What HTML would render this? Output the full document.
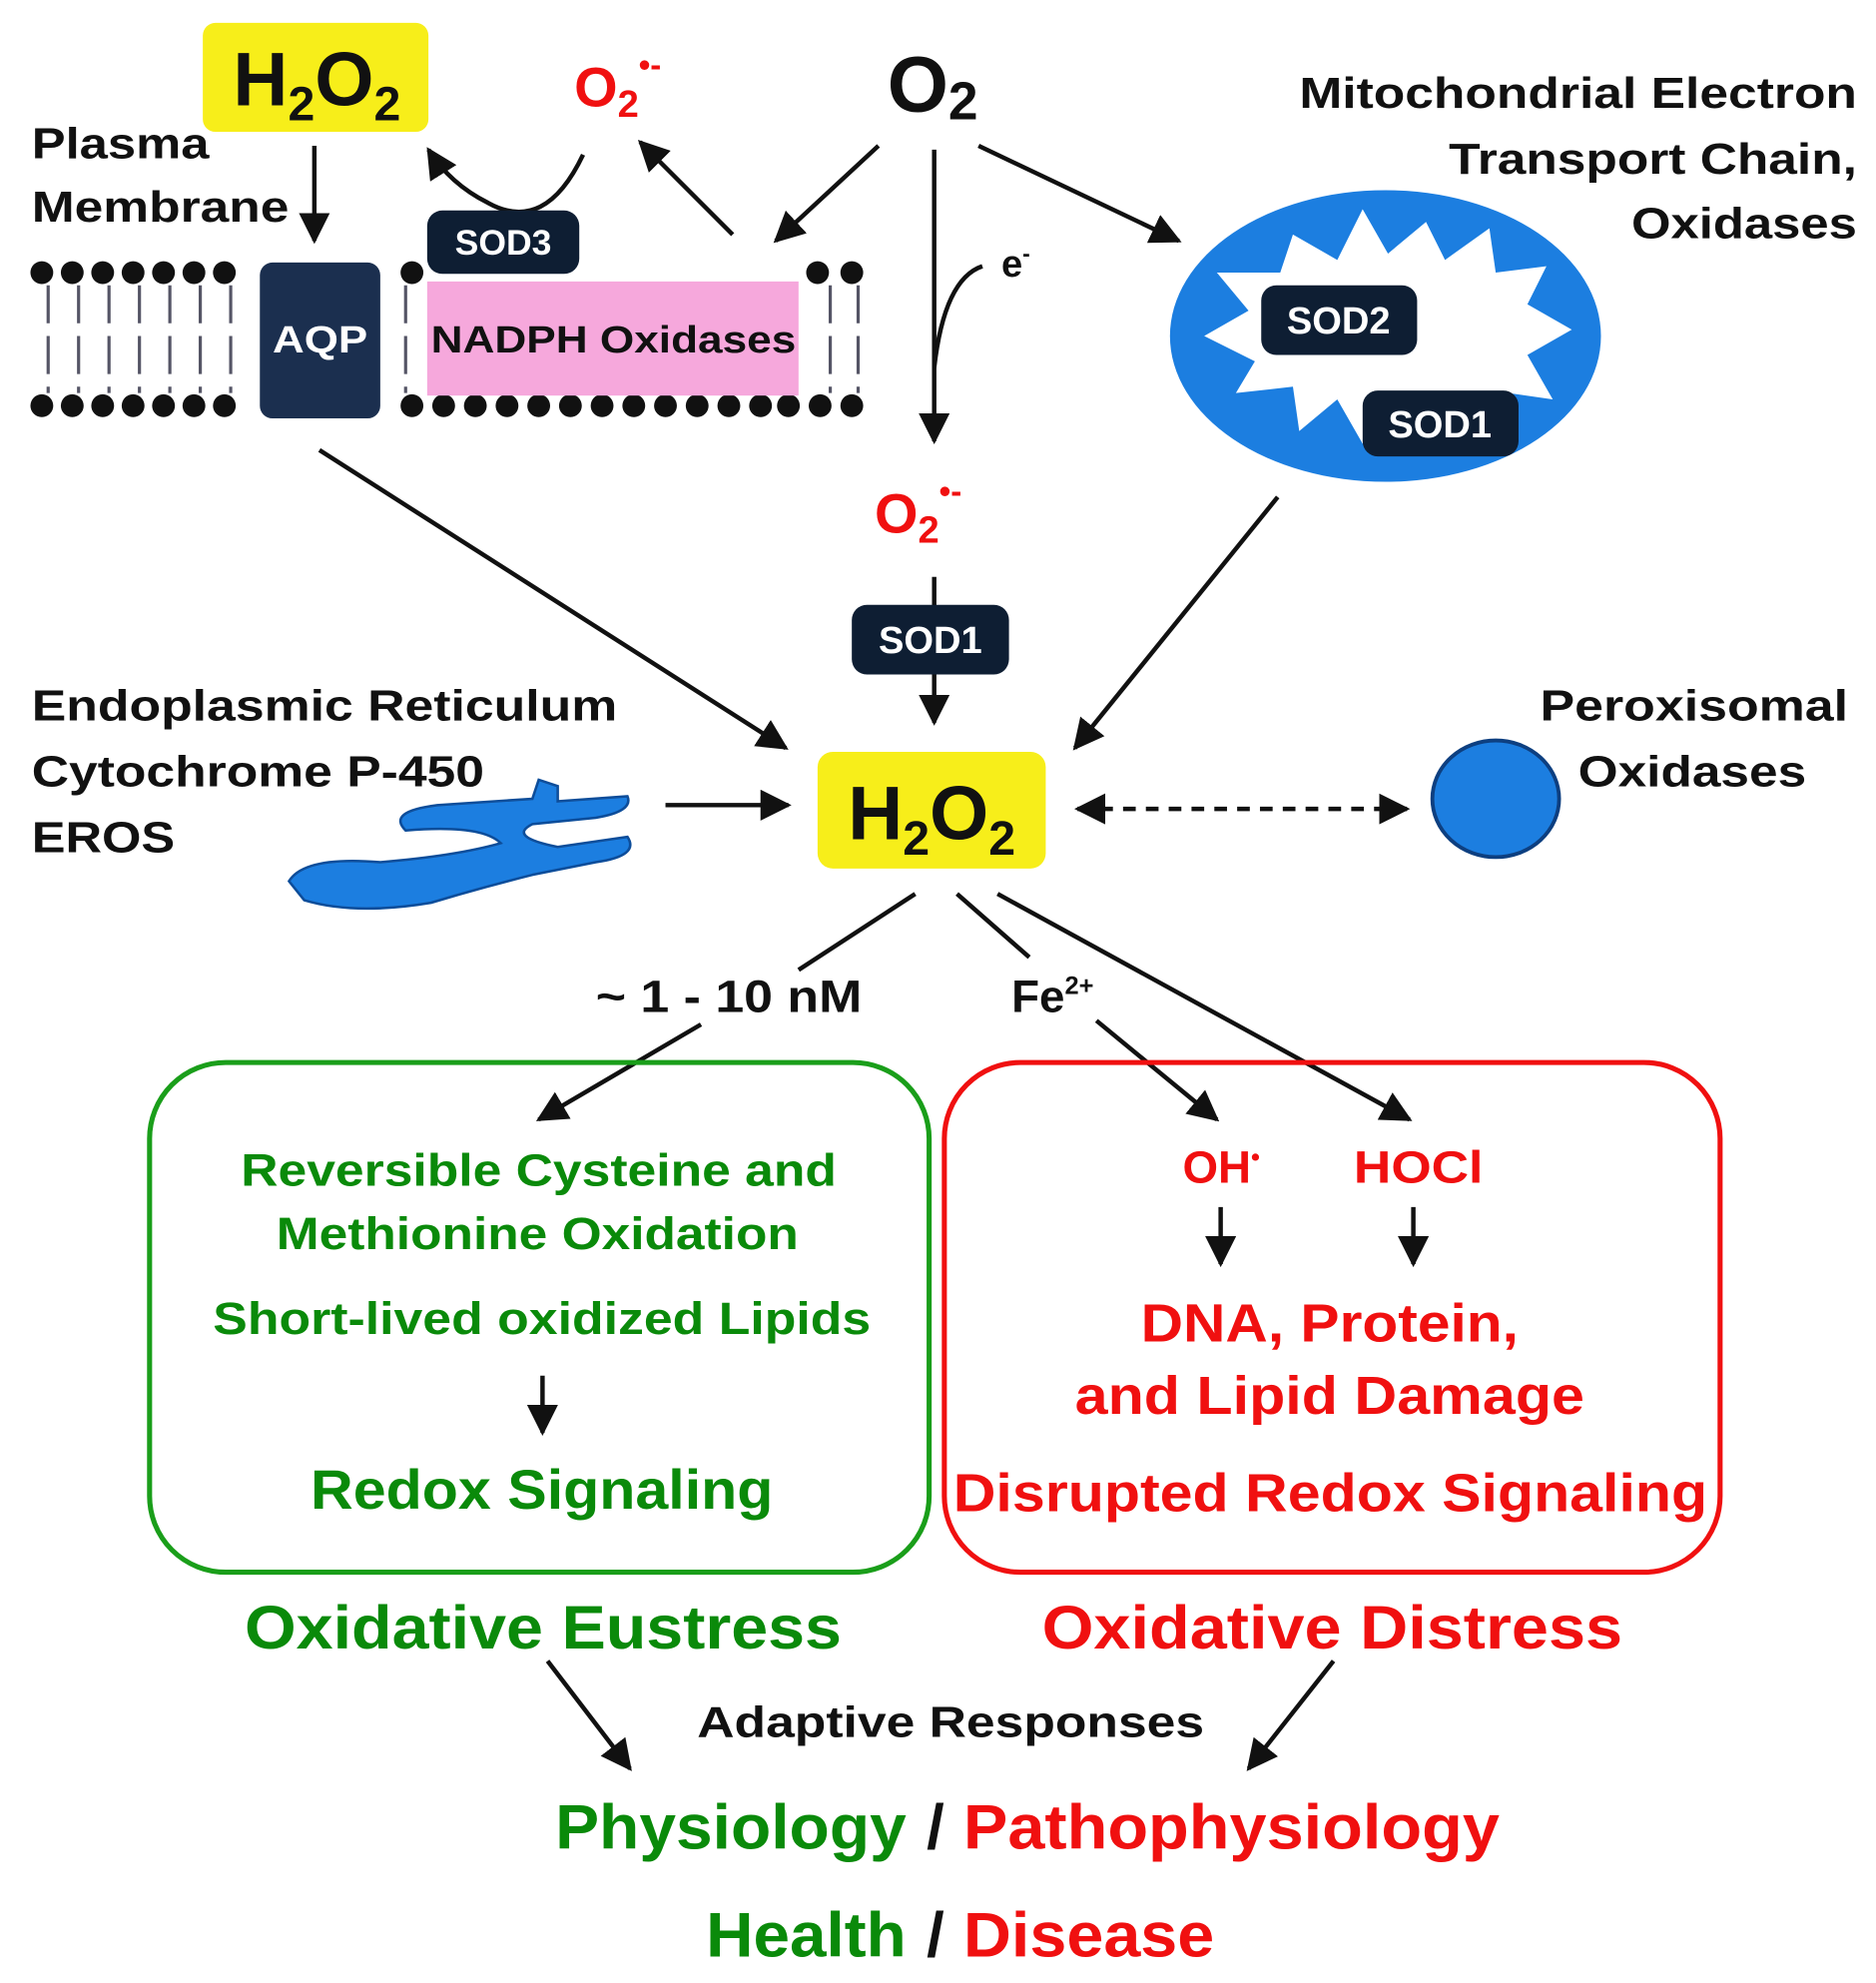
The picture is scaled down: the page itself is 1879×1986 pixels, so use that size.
<!DOCTYPE html>
<html><head><meta charset="utf-8"><style>
html,body{margin:0;padding:0;background:#fff}
svg{display:block}
text{font-family:"Liberation Sans",Arial,sans-serif;font-weight:bold}
</style></head><body>
<svg width="1879" height="1986" viewBox="0 0 1480 1564" preserveAspectRatio="none" xmlns="http://www.w3.org/2000/svg">
<defs>
<marker id="a" viewBox="0 0 10 10" refX="9" refY="5" markerWidth="7" markerHeight="7" orient="auto-start-reverse"><path d="M0,0 L10,5 L0,10 z" fill="#111"/></marker>
</defs>
<g stroke="#111" stroke-width="3.5" fill="none" marker-end="url(#a)">
<line x1="248" y1="115" x2="248" y2="190"/>
<path d="M460,122 Q430,185 385,160 Q355,145 338,118"/>
<line x1="578" y1="185" x2="505" y2="112"/>
<line x1="693" y1="115" x2="612" y2="190"/>
<line x1="737" y1="118" x2="737" y2="348"/>
<path d="M775,210 Q745,220 737,290" marker-end="none"/>
<line x1="772" y1="115" x2="930" y2="190"/>
<line x1="737" y1="455" x2="737" y2="570"/>
<line x1="1008" y1="392" x2="848" y2="590"/>
<line x1="252" y1="355" x2="620" y2="590"/>
<line x1="525" y1="635" x2="622" y2="635"/>
<line x1="850" y1="638" x2="1110" y2="638" stroke-dasharray="10,8" marker-start="url(#a)"/>
<line x1="722" y1="705" x2="630" y2="765" marker-end="none"/>
<line x1="553" y1="808" x2="425" y2="883"/>
<line x1="755" y1="705" x2="812" y2="755" marker-end="none"/>
<line x1="865" y1="805" x2="960" y2="883"/>
<line x1="787" y1="705" x2="1112" y2="883"/>
<line x1="428" y1="1085" x2="428" y2="1130"/>
<line x1="963" y1="952" x2="963" y2="997"/>
<line x1="1115" y1="952" x2="1115" y2="997"/>
<line x1="432" y1="1310" x2="497" y2="1395"/>
<line x1="1052" y1="1310" x2="985" y2="1395"/>
</g>
<g fill="#111">
<circle cx="33" cy="215" r="9"/><circle cx="57" cy="215" r="9"/><circle cx="81" cy="215" r="9"/><circle cx="105" cy="215" r="9"/><circle cx="129" cy="215" r="9"/><circle cx="153" cy="215" r="9"/><circle cx="177" cy="215" r="9"/>
<circle cx="325" cy="215" r="9"/><circle cx="645" cy="215" r="9"/><circle cx="672" cy="215" r="9"/>
<circle cx="33" cy="320" r="9"/><circle cx="57" cy="320" r="9"/><circle cx="81" cy="320" r="9"/><circle cx="105" cy="320" r="9"/><circle cx="129" cy="320" r="9"/><circle cx="153" cy="320" r="9"/><circle cx="177" cy="320" r="9"/>
<circle cx="325" cy="320" r="9"/><circle cx="350" cy="320" r="9"/><circle cx="375" cy="320" r="9"/><circle cx="400" cy="320" r="9"/><circle cx="425" cy="320" r="9"/><circle cx="450" cy="320" r="9"/><circle cx="475" cy="320" r="9"/><circle cx="500" cy="320" r="9"/><circle cx="525" cy="320" r="9"/><circle cx="550" cy="320" r="9"/><circle cx="575" cy="320" r="9"/><circle cx="600" cy="320" r="9"/><circle cx="622" cy="320" r="9"/><circle cx="647" cy="320" r="9"/><circle cx="672" cy="320" r="9"/>
</g>
<g stroke="#556" stroke-width="2.5" stroke-dasharray="30,10">
<line x1="38" y1="225" x2="38" y2="310"/><line x1="62" y1="225" x2="62" y2="310"/><line x1="86" y1="225" x2="86" y2="310"/><line x1="110" y1="225" x2="110" y2="310"/><line x1="134" y1="225" x2="134" y2="310"/><line x1="158" y1="225" x2="158" y2="310"/><line x1="182" y1="225" x2="182" y2="310"/>
<line x1="320" y1="225" x2="320" y2="310"/><line x1="655" y1="225" x2="655" y2="310"/><line x1="677" y1="225" x2="677" y2="310"/>
</g>
<rect x="205" y="207" width="95" height="123" rx="10" fill="#1b2f4f"/>
<text x="215" y="278" font-size="30" fill="#fff" textLength="75" lengthAdjust="spacingAndGlyphs">AQP</text>
<rect x="337" y="222" width="293" height="90" fill="#f6a8dc"/>
<text x="340" y="278" font-size="30" fill="#111" textLength="288" lengthAdjust="spacingAndGlyphs">NADPH Oxidases</text>
<rect x="337" y="166" width="120" height="50" rx="12" fill="#0e1e33"/>
<text x="397" y="201" font-size="28" fill="#fff" text-anchor="middle">SOD3</text>
<rect x="160" y="18" width="178" height="86" rx="10" fill="#f7ee1a"/>
<text x="250" y="83" font-size="60" fill="#111" text-anchor="middle">H<tspan font-size="38" dy="12">2</tspan><tspan dy="-12">O</tspan><tspan font-size="38" dy="12">2</tspan></text>
<text x="453" y="84" font-size="44" fill="#f01010">O<tspan font-size="30" dy="8">2</tspan><tspan font-size="26" dy="-32">•-</tspan></text>
<text x="700" y="88" font-size="62" fill="#111">O<tspan font-size="42" dy="6">2</tspan></text>
<text x="790" y="218" font-size="30" fill="#111">e<tspan font-size="18" dy="-12">-</tspan></text>
<text x="1025" y="85" font-size="34" fill="#111" textLength="440" lengthAdjust="spacingAndGlyphs">Mitochondrial Electron</text>
<text x="1143" y="137" font-size="34" fill="#111" textLength="322" lengthAdjust="spacingAndGlyphs">Transport Chain,</text>
<text x="1287" y="188" font-size="34" fill="#111" textLength="178" lengthAdjust="spacingAndGlyphs">Oxidases</text>
<text x="25" y="125" font-size="34" fill="#111" textLength="140" lengthAdjust="spacingAndGlyphs">Plasma</text>
<text x="25" y="175" font-size="34" fill="#111" textLength="203" lengthAdjust="spacingAndGlyphs">Membrane</text>
<ellipse cx="1093" cy="265" rx="170" ry="115" fill="#1c7ee0"/>
<path d="M950,265 L985,245 L960,215 L1010,215 L1020,185 L1055,205 L1075,165 L1095,200 L1125,175 L1140,205 L1175,180 L1180,215 L1220,210 L1205,240 L1240,260 L1205,280 L1225,315 L1190,310 L1180,345 L1150,320 L1120,350 L1100,315 L1075,350 L1055,315 L1025,340 L1020,305 L975,310 L990,285 Z" fill="#fff"/>
<rect x="995" y="225" width="123" height="55" rx="12" fill="#0e1e33"/>
<text x="1056" y="263" font-size="30" fill="#fff" text-anchor="middle">SOD2</text>
<rect x="1075" y="308" width="123" height="52" rx="12" fill="#0e1e33"/>
<text x="1136" y="345" font-size="30" fill="#fff" text-anchor="middle">SOD1</text>
<text x="690" y="420" font-size="44" fill="#f01010">O<tspan font-size="30" dy="8">2</tspan><tspan font-size="26" dy="-32">•-</tspan></text>
<rect x="672" y="477" width="124" height="55" rx="12" fill="#0e1e33"/>
<text x="734" y="515" font-size="30" fill="#fff" text-anchor="middle">SOD1</text>
<text x="25" y="568" font-size="34" fill="#111" textLength="462" lengthAdjust="spacingAndGlyphs">Endoplasmic Reticulum</text>
<text x="25" y="620" font-size="34" fill="#111" textLength="357" lengthAdjust="spacingAndGlyphs">Cytochrome P-450</text>
<text x="25" y="672" font-size="34" fill="#111" textLength="113" lengthAdjust="spacingAndGlyphs">EROS</text>
<path d="M228,695 Q240,675 300,680 Q360,675 395,665 Q380,650 320,655 Q305,640 345,635 L420,630 L425,615 L440,620 L440,632 L495,628 Q500,640 470,645 L420,650 Q400,660 440,668 L495,660 Q505,675 470,680 L420,690 Q380,700 340,712 Q280,722 240,710 Z" fill="#1c7ee0" stroke="#0d4d9a" stroke-width="2"/>
<rect x="645" y="593" width="180" height="92" rx="12" fill="#f7ee1a"/>
<text x="735" y="662" font-size="60" fill="#111" text-anchor="middle">H<tspan font-size="38" dy="12">2</tspan><tspan dy="-12">O</tspan><tspan font-size="38" dy="12">2</tspan></text>
<ellipse cx="1180" cy="630" rx="50" ry="46" fill="#1c7ee0" stroke="#0d3f80" stroke-width="3"/>
<text x="1215" y="568" font-size="34" fill="#111" textLength="243" lengthAdjust="spacingAndGlyphs">Peroxisomal</text>
<text x="1245" y="620" font-size="34" fill="#111" textLength="180" lengthAdjust="spacingAndGlyphs">Oxidases</text>
<text x="470" y="798" font-size="36" fill="#111" textLength="210" lengthAdjust="spacingAndGlyphs">~ 1 - 10 nM</text>
<text x="798" y="798" font-size="36" fill="#111">Fe<tspan font-size="20" dy="-14">2+</tspan></text>
<rect x="118" y="838" width="615" height="402" rx="60" fill="none" stroke="#1a9e1a" stroke-width="4"/>
<rect x="745" y="838" width="612" height="402" rx="60" fill="none" stroke="#f01010" stroke-width="4"/>
<g fill="#0a8a0a" lengthAdjust="spacingAndGlyphs">
<text x="190" y="935" font-size="36" textLength="470" lengthAdjust="spacingAndGlyphs">Reversible Cysteine and</text>
<text x="218" y="985" font-size="36" textLength="412" lengthAdjust="spacingAndGlyphs">Methionine Oxidation</text>
<text x="168" y="1052" font-size="36" textLength="519" lengthAdjust="spacingAndGlyphs">Short-lived oxidized Lipids</text>
<text x="245" y="1190" font-size="44" textLength="365" lengthAdjust="spacingAndGlyphs">Redox Signaling</text>
<text x="193" y="1300" font-size="48" textLength="471" lengthAdjust="spacingAndGlyphs">Oxidative Eustress</text>
<text x="438" y="1458" font-size="50" textLength="277" lengthAdjust="spacingAndGlyphs">Physiology</text>
<text x="557" y="1543" font-size="50" textLength="158" lengthAdjust="spacingAndGlyphs">Health</text>
</g>
<g fill="#f01010">
<text x="933" y="933" font-size="36">OH<tspan font-size="20" dy="-14">•</tspan></text>
<text x="1068" y="933" font-size="36" textLength="102" lengthAdjust="spacingAndGlyphs">HOCl</text>
<text x="900" y="1058" font-size="42" textLength="298" lengthAdjust="spacingAndGlyphs">DNA, Protein,</text>
<text x="848" y="1115" font-size="42" textLength="402" lengthAdjust="spacingAndGlyphs">and Lipid Damage</text>
<text x="752" y="1192" font-size="42" textLength="595" lengthAdjust="spacingAndGlyphs">Disrupted Redox Signaling</text>
<text x="822" y="1300" font-size="48" textLength="458" lengthAdjust="spacingAndGlyphs">Oxidative Distress</text>
<text x="760" y="1458" font-size="50" textLength="423" lengthAdjust="spacingAndGlyphs">Pathophysiology</text>
<text x="760" y="1543" font-size="50" textLength="198" lengthAdjust="spacingAndGlyphs">Disease</text>
</g>
<text x="738" y="1458" font-size="50" fill="#111" text-anchor="middle">/</text>
<text x="738" y="1543" font-size="50" fill="#111" text-anchor="middle">/</text>
<text x="550" y="1370" font-size="34" fill="#111" textLength="400" lengthAdjust="spacingAndGlyphs">Adaptive Responses</text>
</svg>
</body></html>
